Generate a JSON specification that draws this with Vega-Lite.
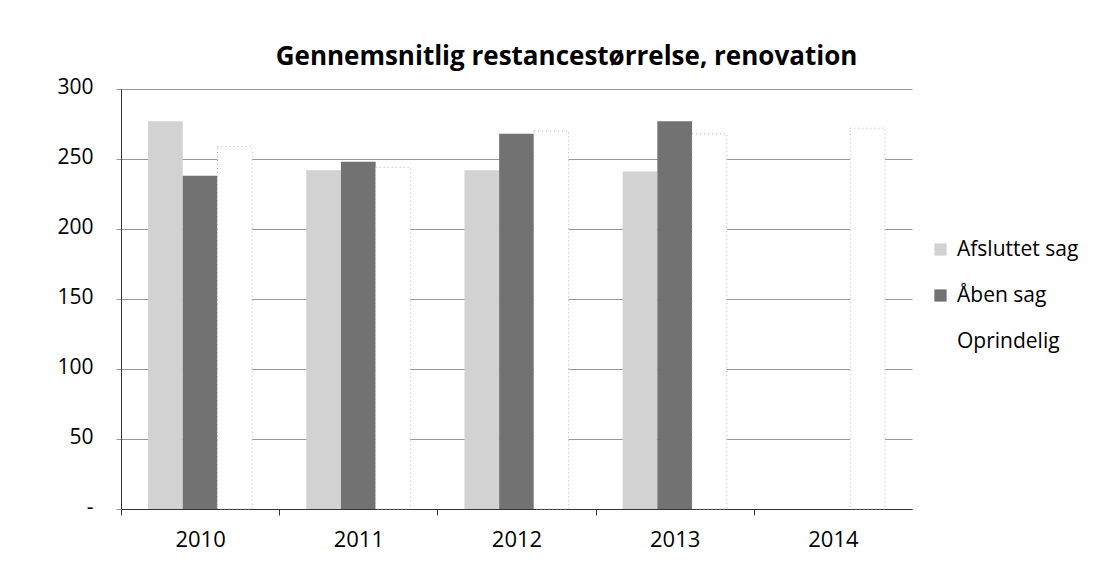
{
  "$schema": "https://vega.github.io/schema/vega-lite/v6.json",
  "width": 791,
  "height": 420,
  "autosize": {"type": "none"},
  "padding": {"left": 121, "top": 89, "right": 189, "bottom": 57},
  "background": "white",
  "config": {"view": {"stroke": null}, "font": "Open Sans"},
  "title": {
    "text": "Gennemsnitlig restancestørrelse, renovation",
    "font": "Open Sans",
    "fontSize": 26,
    "fontWeight": "bold",
    "color": "#000000",
    "anchor": "middle",
    "dx": 50,
    "offset": 6
  },
  "data": {
    "values": [
      {"year": "2010", "serie": "Afsluttet sag", "value": 277},
      {"year": "2010", "serie": "Åben sag", "value": 238},
      {"year": "2010", "serie": "Oprindelig", "value": 259},
      {"year": "2011", "serie": "Afsluttet sag", "value": 242},
      {"year": "2011", "serie": "Åben sag", "value": 248},
      {"year": "2011", "serie": "Oprindelig", "value": 244},
      {"year": "2012", "serie": "Afsluttet sag", "value": 242},
      {"year": "2012", "serie": "Åben sag", "value": 268},
      {"year": "2012", "serie": "Oprindelig", "value": 270},
      {"year": "2013", "serie": "Afsluttet sag", "value": 241},
      {"year": "2013", "serie": "Åben sag", "value": 277},
      {"year": "2013", "serie": "Oprindelig", "value": 268},
      {"year": "2014", "serie": "Oprindelig", "value": 272}
    ]
  },
  "mark": {"type": "bar"},
  "encoding": {
    "x": {
      "field": "year",
      "type": "nominal",
      "scale": {"paddingInner": 0.342, "paddingOuter": 0.171},
      "axis": {
        "title": null,
        "labelAngle": 0,
        "labelFont": "Open Sans",
        "labelFontSize": 22,
        "labelColor": "#000000",
        "labelPadding": 14,
        "tickOffset": -79,
        "labelOffset": 79,
        "tickSize": 6,
        "tickColor": "#333333",
        "domainColor": "#333333",
        "grid": false
      }
    },
    "xOffset": {
      "field": "serie",
      "type": "nominal",
      "sort": ["Afsluttet sag", "Åben sag", "Oprindelig"]
    },
    "y": {
      "field": "value",
      "type": "quantitative",
      "scale": {"domain": [0, 300]},
      "axis": {
        "title": null,
        "values": [0, 50, 100, 150, 200, 250, 300],
        "labelExpr": "datum.value === 0 ? '-' : datum.label",
        "labelFont": "Open Sans",
        "labelFontSize": 21,
        "labelColor": "#000000",
        "labelPadding": 23,
        "labelOffset": -2,
        "tickSize": 5,
        "tickColor": "#999999",
        "gridColor": "#999999",
        "gridWidth": 1,
        "domainColor": "#333333"
      }
    },
    "color": {
      "field": "serie",
      "type": "nominal",
      "scale": {
        "domain": ["Afsluttet sag", "Åben sag", "Oprindelig"],
        "range": ["#d2d2d2", "#727272", "#ffffff"]
      },
      "legend": {
        "title": null,
        "orient": "none",
        "legendX": 809,
        "legendY": 150,
        "labelFont": "Open Sans",
        "labelFontSize": 21,
        "labelColor": "#000000",
        "symbolType": "square",
        "symbolSize": 150,
        "symbolStrokeWidth": 0,
        "rowPadding": 24,
        "labelOffset": 6
      }
    },
    "stroke": {
      "condition": {"test": "datum.serie === 'Oprindelig'", "value": "#b5b5b5"},
      "value": null
    },
    "strokeDash": {
      "condition": {"test": "datum.serie === 'Oprindelig'", "value": [1, 3]},
      "value": [1, 0]
    }
  }
}
